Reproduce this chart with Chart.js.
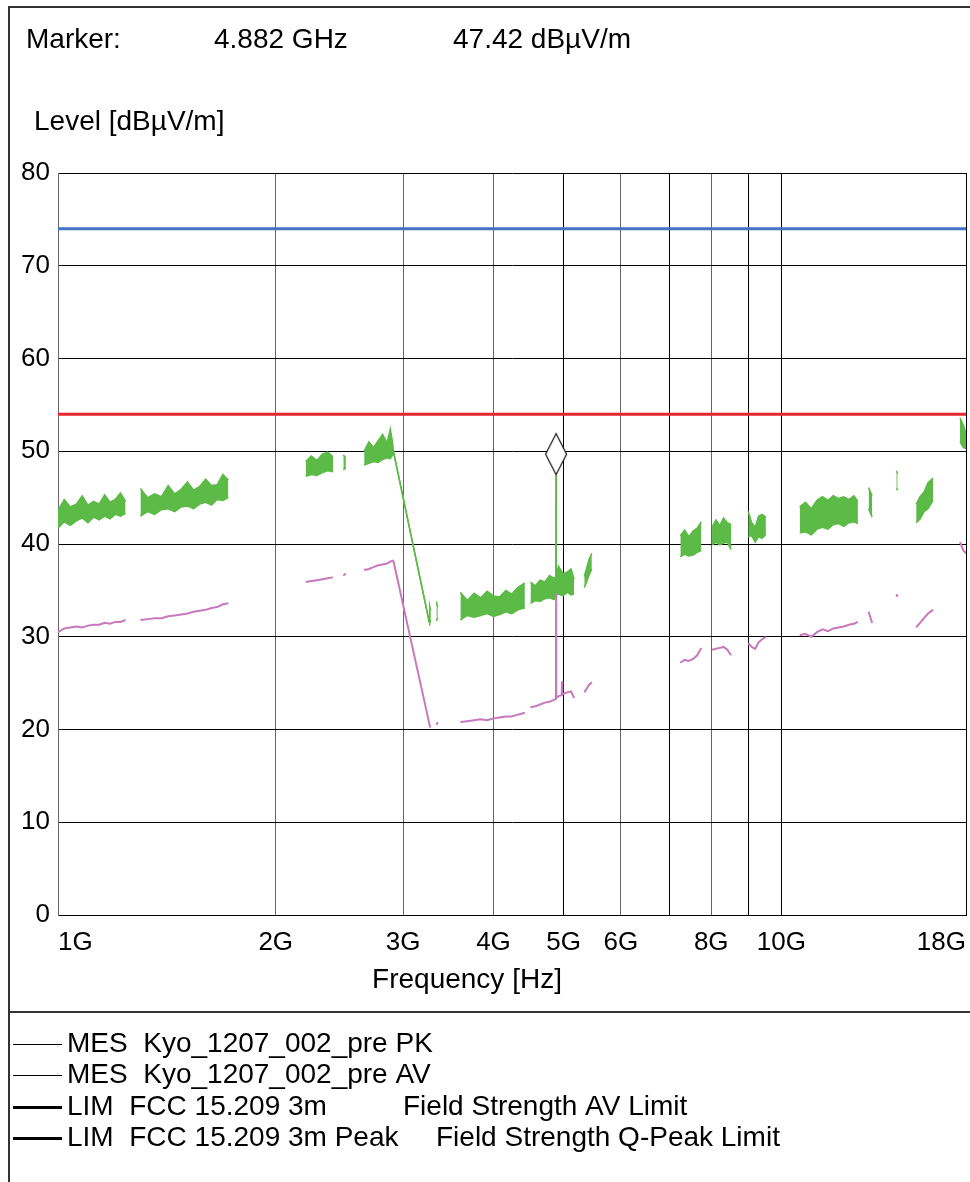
<!DOCTYPE html>
<html>
<head>
<meta charset="utf-8">
<script src="https://cdn.jsdelivr.net/npm/chart.js@4.4.0/dist/chart.umd.min.js"></script>
<style>
  html, body { margin: 0; padding: 0; background: #fff; }
</style>
</head>
<body>
<canvas id="myChart" width="970" height="1182"></canvas>
<script>
// frequencies in GHz, levels in dBuV/m, null = gap in the sweep
var pkFreq = [1.00, 1.02, 1.04, 1.06, 1.08, 1.10, 1.12, 1.14, 1.16, 1.18, 1.20, 1.22, 1.24, 1.27,
  1.30, 1.33, 1.36, 1.39, 1.42, 1.45, 1.48, 1.51, 1.54, 1.57, 1.60, 1.63, 1.66, 1.69, 1.72, 2.00,
  2.20, 2.24, 2.28, 2.32, 2.36, 2.40, 2.44, 2.48, 2.50, 2.58,
  2.65, 2.69, 2.73, 2.77, 2.81, 2.85, 2.88, 2.90, 2.91, 3.26, 3.265, 3.275, 3.30, 3.335, 3.35, 3.50,
  3.60, 3.68, 3.76, 3.84, 3.92, 4.00, 4.08, 4.16, 4.24, 4.32, 4.42, 4.46,
  4.50, 4.57, 4.64, 4.71, 4.78, 4.85, 4.88, 4.882, 4.884, 4.92, 4.99, 5.06, 5.12, 5.17, 5.25,
  5.34, 5.38, 5.42, 5.47, 6.50,
  7.25, 7.35, 7.45, 7.55, 7.65, 7.75, 7.90,
  8.02, 8.12, 8.22, 8.32, 8.42, 8.52, 8.80,
  9.00, 9.10, 9.20, 9.30, 9.40, 9.52, 10.0,
  10.6, 10.8, 11.0, 11.2, 11.4, 11.6, 11.8, 12.0, 12.2, 12.4, 12.6, 12.76, 13.0,
  13.2, 13.35, 13.9, 14.42, 14.48, 15.0,
  15.36, 15.55, 15.75, 15.95, 16.21, 17.0, 17.66, 17.85, 18.0]
var pkHigh = [43.6, 44.8, 44.0, 44.3, 45.2, 44.2, 44.6, 44.3, 45.3, 44.5, 44.8, 45.5, 44.6, null,
  46.0, 45.0, 45.4, 45.1, 46.3, 45.4, 45.9, 46.7, 45.8, 46.2, 47.0, 46.3, 46.4, 47.5, 46.9, null,
  48.9, 49.5, 49.0, 49.7, 49.9, 49.4, null, 49.6, 49.3, null,
  50.0, 51.0, 50.4, 51.1, 51.8, 50.9, 52.4, 51.0, 49.9, 31.6, 33.3, 32.8, null, 33.8, 33.2, null,
  34.8, 33.9, 34.7, 34.2, 34.9, 34.4, 34.3, 35.0, 34.6, 35.3, 35.8, null,
  35.9, 35.5, 36.1, 35.9, 36.6, 36.3, 36.5, 47.42, 36.6, 37.6, 36.8, 37.0, 37.3, 36.2, null,
  36.5, 37.4, 38.3, 39.0, null,
  40.9, 41.5, 40.8, 41.4, 41.7, 42.4, null,
  41.8, 42.6, 42.0, 42.8, 42.3, 42.1, null,
  43.5, 42.3, 41.8, 43.0, 43.2, 42.9, null,
  44.0, 44.5, 43.8, 44.7, 45.1, 44.7, 45.2, 44.9, 45.1, 44.8, 45.2, 44.6, null,
  46.1, 45.2, null, 47.9, 47.6, null,
  44.3, 45.1, 45.6, 46.6, 47.1, null, 53.6, 52.8, 52.0]
var pkLow = [41.7, 42.4, 42.0, 42.5, 42.8, 42.3, 42.9, 42.6, 43.0, 42.7, 43.2, 43.0, 43.3, null,
  43.0, 43.5, 43.2, 43.7, 43.8, 43.5, 44.0, 44.1, 43.8, 44.3, 44.5, 44.2, 44.8, 44.7, 45.0, null,
  47.3, 47.5, 47.4, 47.7, 47.9, 47.8, null, 48.0, 48.2, null,
  48.5, 48.7, 48.9, 48.8, 49.1, 49.3, 49.2, 49.6, 49.9, 31.6, 31.5, 31.8, null, 31.7, 32.0, null,
  31.8, 32.3, 32.1, 32.3, 32.5, 32.2, 32.4, 32.7, 32.5, 32.9, 33.1, null,
  33.6, 33.9, 33.8, 34.1, 34.2, 34.0, 34.4, 47.42, 34.5, 34.6, 34.4, 34.8, 34.5, 34.6, null,
  35.3, 35.9, 36.6, 37.3, null,
  38.6, 38.9, 38.7, 38.8, 39.1, 39.3, null,
  39.9, 40.2, 39.9, 40.1, 40.2, 39.4, null,
  40.8, 40.9, 40.2, 40.8, 40.6, 41.0, null,
  41.2, 41.3, 41.0, 41.6, 41.8, 41.6, 42.1, 42.2, 41.9, 42.3, 42.4, 42.2, null,
  43.8, 42.9, null, 46.0, 45.8, null,
  42.3, 42.7, 43.5, 43.8, 44.7, null, 51.0, 50.4, 50.3]

var avFreq = [1.00, 1.02, 1.04, 1.06, 1.08, 1.10, 1.12, 1.14, 1.16, 1.18, 1.20, 1.22, 1.24, 1.27,
  1.30, 1.33, 1.36, 1.39, 1.42, 1.45, 1.48, 1.51, 1.54, 1.57, 1.60, 1.63, 1.66, 1.69, 1.72, 2.00,
  2.20, 2.24, 2.28, 2.32, 2.36, 2.40, 2.44, 2.48, 2.50, 2.58,
  2.65, 2.69, 2.73, 2.77, 2.81, 2.85, 2.88, 2.90, 2.91, 3.27, 3.30, 3.335, 3.35, 3.50,
  3.60, 3.68, 3.76, 3.84, 3.92, 4.00, 4.08, 4.16, 4.24, 4.32, 4.42, 4.46,
  4.50, 4.57, 4.64, 4.71, 4.78, 4.85, 4.88, 4.882, 4.884, 4.92, 4.97, 4.975, 4.98, 5.06, 5.12, 5.17, 5.25,
  5.34, 5.38, 5.42, 5.47, 6.50,
  7.25, 7.35, 7.45, 7.55, 7.65, 7.75, 7.90,
  8.02, 8.12, 8.22, 8.32, 8.42, 8.52, 8.80,
  9.00, 9.10, 9.20, 9.30, 9.40, 9.52, 10.0,
  10.6, 10.8, 11.0, 11.2, 11.4, 11.6, 11.8, 12.0, 12.2, 12.4, 12.6, 12.76, 13.0,
  13.2, 13.35, 13.9, 14.42, 14.48, 15.0,
  15.36, 15.55, 15.75, 15.95, 16.21, 17.0, 17.66, 17.85, 18.0]
var avLevel = [30.5, 30.9, 31.0, 31.1, 31.0, 31.2, 31.3, 31.3, 31.5, 31.4, 31.6, 31.6, 31.8, null,
  31.8, 31.9, 32.0, 32.0, 32.2, 32.3, 32.4, 32.5, 32.7, 32.8, 32.9, 33.1, 33.2, 33.5, 33.6, null,
  35.9, 36.0, 36.1, 36.2, 36.3, 36.4, null, 36.6, 36.8, null,
  37.2, 37.3, 37.5, 37.7, 37.8, 37.9, 38.1, 38.2, 38.1, 20.2, null, 20.5, 20.8, null,
  20.8, 20.9, 21.0, 21.1, 21.0, 21.2, 21.3, 21.4, 21.4, 21.6, 21.8, null,
  22.4, 22.5, 22.7, 22.9, 23.0, 23.2, 23.3, 34.7, 23.4, 23.6, 23.7, 25.2, 23.8, 24.0, 24.1, 23.4, null,
  24.0, 24.4, 24.8, 25.1, null,
  27.2, 27.5, 27.4, 27.6, 28.0, 28.8, null,
  28.6, 28.7, 28.8, 28.9, 28.6, 28.0, null,
  29.3, 28.9, 28.7, 29.4, 29.7, 30.0, null,
  30.2, 30.3, 30.0, 30.5, 30.8, 30.6, 30.9, 31.0, 31.1, 31.3, 31.4, 31.6, null,
  32.7, 31.5, null, 34.6, 34.3, null,
  31.0, 31.5, 32.0, 32.5, 32.9, null, 40.2, 39.3, 39.0]

var limFreq = [1, 18]
var avLimit = [54, 54]
var peakLimit = [74, 74]

var markerFreq = 4.882
var markerLevel = 47.42

var tickFreq = [1, 2, 3, 4, 5, 6, 7, 8, 9, 10, 18]
var tickLabels = ['1G', '2G', '3G', '4G', '5G', '6G', '', '8G', '', '10G', '18G']
var darkGrid = [5, 7, 9, 10, 18]

var legendNames = ['MES  Kyo_1207_002_pre PK', 'MES  Kyo_1207_002_pre AV',
  'LIM  FCC 15.209 3m', 'LIM  FCC 15.209 3m Peak']
var legendNotes = ['', '', 'Field Strength AV Limit', 'Field Strength Q-Peak Limit']
var legendWidths = [1, 1, 3, 3]

var FONT = '"Liberation Sans", Arial, sans-serif'

function pts(xs, ys) {
  return xs.map(function (x, i) { return { x: x, y: ys[i] } })
}

// marker symbol: diamond whose lower tip sits on the data point
var diamond = document.createElement('canvas')
diamond.width = 24
diamond.height = 86
var dctx = diamond.getContext('2d')
dctx.beginPath()
dctx.moveTo(12, 1.5)
dctx.lineTo(22.5, 22)
dctx.lineTo(12, 42.5)
dctx.lineTo(1.5, 22)
dctx.closePath()
dctx.fillStyle = '#fff'
dctx.fill()
dctx.lineWidth = 1.2
dctx.strokeStyle = '#111'
dctx.stroke()

var textPlugin = {
  id: 'texts',
  afterDraw: function (chart) {
    var c = chart.ctx
    c.save()
    c.strokeStyle = '#333'
    c.lineWidth = 2
    c.beginPath()
    c.moveTo(9, 1182)
    c.lineTo(9, 7)
    c.lineTo(970, 7)
    c.moveTo(9, 1012)
    c.lineTo(970, 1012)
    c.stroke()

    c.fillStyle = '#000'
    c.font = '28px ' + FONT
    c.textBaseline = 'middle'
    c.textAlign = 'left'
    c.fillText('Marker:', 26, 40)
    c.fillText(markerFreq.toFixed(3) + ' GHz', 214, 40)
    c.fillText(markerLevel.toFixed(2) + ' dBµV/m', 453, 40)
    c.fillText('Level [dBµV/m]', 34, 122)
    c.textAlign = 'center'
    c.fillText('Frequency [Hz]', 467, 980)

    c.textAlign = 'left'
    var notesX = [0, 0, 403, 436]
    legendNames.forEach(function (name, i) {
      var y = Math.round(1044 + i * 31.3)
      c.lineWidth = legendWidths[i]
      c.strokeStyle = '#000'
      c.beginPath()
      c.moveTo(13, y + (legendWidths[i] % 2 ? 0.5 : 0))
      c.lineTo(62, y + (legendWidths[i] % 2 ? 0.5 : 0))
      c.stroke()
      c.fillText(name, 67, y)
      if (legendNotes[i]) c.fillText(legendNotes[i], notesX[i], y)
    })
    c.restore()
  }
}

var ctx = document.getElementById('myChart').getContext('2d')

var myChart = new Chart(ctx, {
  type: 'line',
  data: {
    datasets: [
      {
        label: 'Marker',
        data: [{ x: markerFreq, y: markerLevel }],
        showLine: false,
        pointStyle: diamond,
        pointRadius: 1,
        pointHoverRadius: 1
      },
      {
        label: 'LIM FCC 15.209 3m Peak',
        data: pts(limFreq, peakLimit),
        borderColor: '#4472c4',
        borderWidth: 3,
        pointRadius: 0
      },
      {
        label: 'LIM FCC 15.209 3m',
        data: pts(limFreq, avLimit),
        borderColor: '#e8262d',
        borderWidth: 3,
        pointRadius: 0
      },
      {
        label: 'MES Kyo_1207_002_pre AV',
        data: pts(avFreq, avLevel),
        borderColor: '#c878bd',
        borderWidth: 2,
        pointRadius: 0,
        spanGaps: false
      },
      {
        label: 'MES Kyo_1207_002_pre PK',
        data: pts(pkFreq, pkHigh),
        borderColor: '#5cba46',
        borderWidth: 1.5,
        pointRadius: 0,
        spanGaps: false
      },
      {
        label: 'PK low',
        data: pts(pkFreq, pkLow),
        borderColor: '#5cba46',
        backgroundColor: '#5cba46',
        borderWidth: 1.5,
        pointRadius: 0,
        spanGaps: false,
        fill: 4
      }
    ]
  },
  options: {
    responsive: false,
    animation: false,
    events: [],
    layout: { autoPadding: false, padding: { left: 8, top: 173, right: 4, bottom: 0 } },
    plugins: {
      legend: { display: false },
      tooltip: { enabled: false },
      title: { display: false }
    },
    scales: {
      x: {
        type: 'logarithmic',
        min: 1,
        max: 18,
        afterBuildTicks: function (scale) {
          scale.ticks = tickFreq.map(function (v) { return { value: v } })
        },
        afterFit: function (scale) { scale.height = 267 },
        ticks: {
          autoSkip: false,
          maxRotation: 0,
          align: 'inner',
          padding: 0,
          color: '#000',
          font: { family: FONT, size: 26 },
          callback: function (value, index) { return tickLabels[index] }
        },
        grid: {
          drawTicks: true,
          tickLength: 12,
          tickColor: 'rgba(0,0,0,0)',
          lineWidth: 1,
          color: function (context) {
            var v = context.tick ? context.tick.value : 0
            return darkGrid.indexOf(v) >= 0 ? '#000' : '#666'
          }
        },
        border: { color: '#000', width: 1 }
      },
      y: {
        min: 0,
        max: 80,
        afterFit: function (scale) { scale.width = 50 },
        ticks: {
          stepSize: 10,
          padding: 8,
          color: '#000',
          font: { family: FONT, size: 26 }
        },
        grid: { drawTicks: false, color: '#000', lineWidth: 1 },
        border: { color: '#666', width: 1 }
      }
    }
  },
  plugins: [textPlugin]
})
</script>
</body>
</html>
